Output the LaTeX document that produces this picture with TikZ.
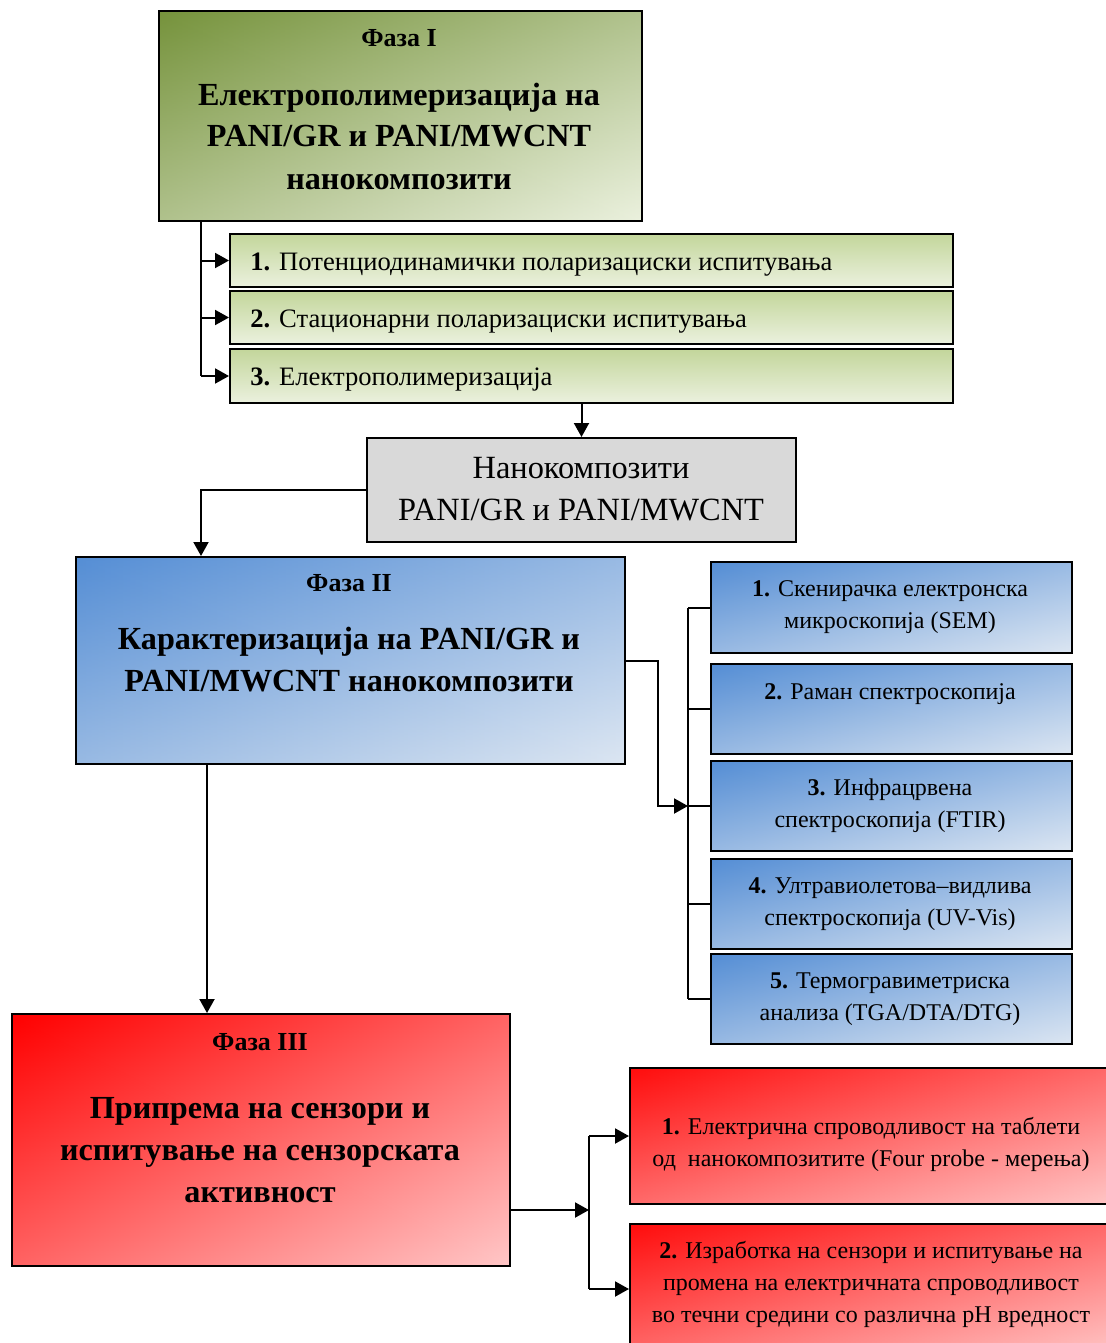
\documentclass[tikz,border=0pt]{standalone}
\usepackage{fontspec}
\setmainfont{Liberation Serif}
\usetikzlibrary{arrows.meta,positioning,calc}

\definecolor{olivedark}{HTML}{76933C}
\definecolor{olivepale}{HTML}{EBF1DE}
\definecolor{greentop}{HTML}{C3D69B}
\definecolor{bluedark}{HTML}{558ED5}
\definecolor{bluepale}{HTML}{DCE6F2}
\definecolor{greybox}{HTML}{D9D9D9}
\definecolor{redpale}{HTML}{FFC7C7}

\tikzset{
  box/.style={draw=black, line width=1pt, anchor=north west, inner sep=0pt},
  % diagonal gradient: half vertical, half horizontal
  diag/.style 2 args={preaction={fill opacity=1, top color=#1, bottom color=#2}, left color=#1, right color=#2, fill opacity=0.5},
  phaseone/.style={box, diag={olivedark}{olivepale}},
  greenitem/.style={box, top color=greentop, bottom color=olivepale},
  greyitem/.style={box, fill=greybox},
  phasetwo/.style={box, diag={bluedark}{bluepale}},
  blueitem/.style={box, diag={bluedark}{bluepale}},
  phasethree/.style={box, diag={red}{redpale}},
  reditem/.style={box, diag={red!95}{redpale}},
  title/.style={anchor=base, inner sep=0pt, font=\fontsize{13}{16}\selectfont\bfseries},
  bigtext/.style={anchor=base, inner sep=0pt, align=center, font=\fontsize{16.1}{21}\selectfont\bfseries},
  itemtext/.style={anchor=base, inner sep=0pt, align=center, font=\fontsize{12}{16}\selectfont},
  line/.style={line width=1pt},
  arr/.style={line width=1pt, -{Triangle[length=7pt,width=7.5pt]}}
}

\begin{document}
\begin{tikzpicture}[x=0.5pt, y=-0.5pt]
\useasboundingbox (0,0) rectangle (1105,1343);

% Phase I
\node[phaseone, minimum width=241.5pt, minimum height=105pt] (p1) at (158,10) {};
\node[title] (p1t) at (399,47) {Фаза I};
\node[bigtext] (p1b) at (399,189) {Електрополимеризација на\\PANI/GR и PANI/MWCNT\\нанокомпозити};

\node[greenitem, minimum width=361.5pt, minimum height=26.5pt] (g1) at (229,233) {};
\node[greenitem, minimum width=361.5pt, minimum height=26.5pt] (g2) at (229,290) {};
\node[greenitem, minimum width=361.5pt, minimum height=27pt] (g3) at (229,348) {};
\node[itemtext, anchor=base west, font=\fontsize{13.3}{16}\selectfont] (g1t) at (250,270) {\textbf{1.} Потенциодинамички поларизациски испитувања};
\node[itemtext, anchor=base west, font=\fontsize{13.3}{16}\selectfont] (g2t) at (250,327) {\textbf{2.} Стационарни поларизациски испитувања};
\node[itemtext, anchor=base west, font=\fontsize{13.3}{16}\selectfont] (g3t) at (250,385) {\textbf{3.} Електрополимеризација};

\coordinate (bus1) at (201,376);
\draw[line] (bus1 |- p1.south) -- (bus1);
\foreach \g in {g1,g2,g3}
  \draw[arr] (bus1 |- \g.west) -- (\g.west);

% nanocomposites
\node[greyitem, minimum width=214.5pt, minimum height=52pt] (gr) at (366,437) {};
\node[anchor=base, inner sep=0pt, align=center, font=\fontsize{16.2}{21}\selectfont] (grt) at (581,520) {Нанокомпозити\\PANI/GR и PANI/MWCNT};
\draw[arr] (g3.south -| gr.north) -- (gr.north);

% Phase II
\node[phasetwo, minimum width=274.5pt, minimum height=103.5pt] (p2) at (75,556) {};
\node[title] (p2t) at (349,591) {Фаза II};
\node[bigtext] (p2b) at (349,691) {Карактеризација на PANI/GR и\\PANI/MWCNT нанокомпозити};
\draw[arr] (gr.west) -| (bus1 |- p2.north);

\node[blueitem, minimum width=180.5pt, minimum height=45.5pt] (b1) at (710,561) {};
\node[blueitem, minimum width=180.5pt, minimum height=45pt] (b2) at (710,663) {};
\node[blueitem, minimum width=180.5pt, minimum height=45pt] (b3) at (710,760) {};
\node[blueitem, minimum width=180.5pt, minimum height=45pt] (b4) at (710,858) {};
\node[blueitem, minimum width=180.5pt, minimum height=45pt] (b5) at (710,953) {};
\node[itemtext] (b1t) at (890,628) {\textbf{1.} Скенирачка електронска\\микроскопија (SEM)};
\node[itemtext] (b2t) at (890,699) {\textbf{2.} Раман спектроскопија};
\node[itemtext] (b3t) at (890,827) {\textbf{3.} Инфрацрвена\\спектроскопија (FTIR)};
\node[itemtext] (b4t) at (890,925) {\textbf{4.} Ултравиолетова–видлива\\спектроскопија (UV-Vis)};
\node[itemtext] (b5t) at (890,1020) {\textbf{5.} Термогравиметриска\\анализа (TGA/DTA/DTG)};

\coordinate (bus2) at (688,608);
\draw[arr] (p2.east) -- ++(32,0) |- (bus2 |- b3.west);
\draw[line] (bus2 |- b1.west) -- (bus2 |- b5.west);
\foreach \b in {b1,b2,b3,b4,b5}
  \draw[line] (bus2 |- \b.west) -- (\b.west);

% Phase III
\node[phasethree, minimum width=249pt, minimum height=126pt] (p3) at (11,1013) {};
\node[title] (p3t) at (260,1050) {Фаза III};
\node[bigtext] (p3b) at (260,1202) {Припрема на сензори и\\испитување на сензорската\\активност};
\coordinate (down2) at (207,1013);
\draw[arr] (down2 |- p2.south) -- (down2);

\node[reditem, minimum width=245pt, minimum height=68pt] (r1) at (629,1067) {};
\node[reditem, minimum width=245pt, minimum height=65pt] (r2) at (629,1223) {};
\node[itemtext] (r1t) at (871,1166) {\textbf{1.} Електрична спроводливост на таблети\\од\ \ нанокомпозитите (Four probe - мерења)};
\node[itemtext] (r2t) at (871,1322) {\textbf{2.} Изработка на сензори и испитување на\\промена на електричната спроводливост\\во течни средини со различна pH вредност};

\coordinate (bus3) at (589,1210);
\draw[arr] (bus3 -| p3.east) -- (bus3);
\draw[line] (bus3 |- r1.west) -- (bus3 |- r2.west);
\draw[arr] (bus3 |- r1.west) -- (r1.west);
\draw[arr] (bus3 |- r2.west) -- (r2.west);
\end{tikzpicture}
\end{document}
